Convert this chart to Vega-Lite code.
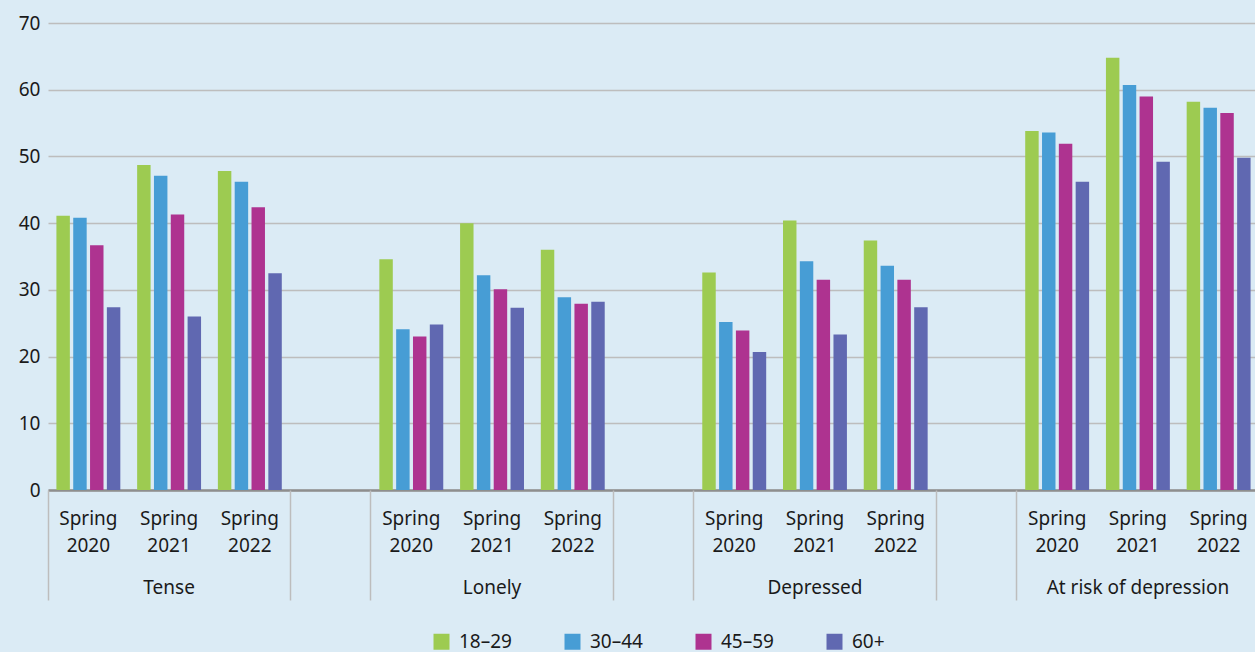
{
  "$schema": "https://vega.github.io/schema/vega-lite/v6.json",
  "width": 1207,
  "height": 467,
  "autosize": {"type": "none"},
  "padding": {"left": 48, "top": 23, "right": 0, "bottom": 162},
  "background": "#dbebf5",
  "config": {
    "view": {"stroke": null},
    "font": "Noto Sans",
    "axis": {"labelFont": "Noto Sans", "labelColor": "#1a1a1a", "labelFontSize": 19, "title": null}
  },
  "data": {
    "values": [
      {"slot": "Tense|Spring 2020", "age": "18–29", "value": 41.1},
      {"slot": "Tense|Spring 2020", "age": "30–44", "value": 40.8},
      {"slot": "Tense|Spring 2020", "age": "45–59", "value": 36.7},
      {"slot": "Tense|Spring 2020", "age": "60+", "value": 27.4},
      {"slot": "Tense|Spring 2021", "age": "18–29", "value": 48.7},
      {"slot": "Tense|Spring 2021", "age": "30–44", "value": 47.1},
      {"slot": "Tense|Spring 2021", "age": "45–59", "value": 41.3},
      {"slot": "Tense|Spring 2021", "age": "60+", "value": 26.0},
      {"slot": "Tense|Spring 2022", "age": "18–29", "value": 47.8},
      {"slot": "Tense|Spring 2022", "age": "30–44", "value": 46.2},
      {"slot": "Tense|Spring 2022", "age": "45–59", "value": 42.4},
      {"slot": "Tense|Spring 2022", "age": "60+", "value": 32.5},
      {"slot": "Lonely|Spring 2020", "age": "18–29", "value": 34.6},
      {"slot": "Lonely|Spring 2020", "age": "30–44", "value": 24.1},
      {"slot": "Lonely|Spring 2020", "age": "45–59", "value": 23.0},
      {"slot": "Lonely|Spring 2020", "age": "60+", "value": 24.8},
      {"slot": "Lonely|Spring 2021", "age": "18–29", "value": 40.0},
      {"slot": "Lonely|Spring 2021", "age": "30–44", "value": 32.2},
      {"slot": "Lonely|Spring 2021", "age": "45–59", "value": 30.1},
      {"slot": "Lonely|Spring 2021", "age": "60+", "value": 27.3},
      {"slot": "Lonely|Spring 2022", "age": "18–29", "value": 36.0},
      {"slot": "Lonely|Spring 2022", "age": "30–44", "value": 28.9},
      {"slot": "Lonely|Spring 2022", "age": "45–59", "value": 27.9},
      {"slot": "Lonely|Spring 2022", "age": "60+", "value": 28.2},
      {"slot": "Depressed|Spring 2020", "age": "18–29", "value": 32.6},
      {"slot": "Depressed|Spring 2020", "age": "30–44", "value": 25.2},
      {"slot": "Depressed|Spring 2020", "age": "45–59", "value": 23.9},
      {"slot": "Depressed|Spring 2020", "age": "60+", "value": 20.7},
      {"slot": "Depressed|Spring 2021", "age": "18–29", "value": 40.4},
      {"slot": "Depressed|Spring 2021", "age": "30–44", "value": 34.3},
      {"slot": "Depressed|Spring 2021", "age": "45–59", "value": 31.5},
      {"slot": "Depressed|Spring 2021", "age": "60+", "value": 23.3},
      {"slot": "Depressed|Spring 2022", "age": "18–29", "value": 37.4},
      {"slot": "Depressed|Spring 2022", "age": "30–44", "value": 33.6},
      {"slot": "Depressed|Spring 2022", "age": "45–59", "value": 31.5},
      {"slot": "Depressed|Spring 2022", "age": "60+", "value": 27.4},
      {"slot": "At risk of depression|Spring 2020", "age": "18–29", "value": 53.8},
      {"slot": "At risk of depression|Spring 2020", "age": "30–44", "value": 53.6},
      {"slot": "At risk of depression|Spring 2020", "age": "45–59", "value": 51.9},
      {"slot": "At risk of depression|Spring 2020", "age": "60+", "value": 46.2},
      {"slot": "At risk of depression|Spring 2021", "age": "18–29", "value": 64.8},
      {"slot": "At risk of depression|Spring 2021", "age": "30–44", "value": 60.7},
      {"slot": "At risk of depression|Spring 2021", "age": "45–59", "value": 59.0},
      {"slot": "At risk of depression|Spring 2021", "age": "60+", "value": 49.2},
      {"slot": "At risk of depression|Spring 2022", "age": "18–29", "value": 58.2},
      {"slot": "At risk of depression|Spring 2022", "age": "30–44", "value": 57.3},
      {"slot": "At risk of depression|Spring 2022", "age": "45–59", "value": 56.5},
      {"slot": "At risk of depression|Spring 2022", "age": "60+", "value": 49.8}
    ]
  },
  "resolve": {"axis": {"x": "independent"}},
  "layer": [
    {
      "mark": {"type": "bar"},
      "encoding": {
        "x": {
          "field": "slot",
          "type": "nominal",
          "sort": null,
          "scale": {
            "domain": ["Tense|Spring 2020", "Tense|Spring 2021", "Tense|Spring 2022", "gap1",
                       "Lonely|Spring 2020", "Lonely|Spring 2021", "Lonely|Spring 2022", "gap2",
                       "Depressed|Spring 2020", "Depressed|Spring 2021", "Depressed|Spring 2022", "gap3",
                       "At risk of depression|Spring 2020", "At risk of depression|Spring 2021", "At risk of depression|Spring 2022"],
            "range": [0, 1211],
            "paddingInner": 0,
            "paddingOuter": 0
          },
          "axis": {
            "orient": "bottom",
            "labelAngle": 0,
            "ticks": false,
            "domain": true,
            "domainColor": "#8e8e8e",
            "domainWidth": 2.5,
            "grid": false,
            "labelPadding": 19,
            "labelBaseline": "top",
            "labelLineHeight": 27,
            "labelExpr": "indexof(datum.value,'gap')>=0 ? '' : split(split(datum.value,'|')[1],' ')"
          }
        },
        "xOffset": {
          "field": "age",
          "type": "nominal",
          "scale": {"paddingInner": 0.2, "paddingOuter": 0.5}
        },
        "y": {
          "field": "value",
          "type": "quantitative",
          "scale": {"domain": [0, 70], "nice": false},
          "axis": {
            "values": [0, 10, 20, 30, 40, 50, 60, 70],
            "domain": false,
            "ticks": false,
            "grid": true,
            "gridColor": "#bdbdbd",
            "gridWidth": 1.5,
            "labelPadding": 8
          }
        },
        "color": {
          "field": "age",
          "type": "nominal",
          "scale": {
            "domain": ["18–29", "30–44", "45–59", "60+"],
            "range": ["#9dcb51", "#479dd5", "#ae3390", "#6068b1"]
          },
          "legend": {
            "title": null,
            "orient": "none",
            "legendX": 384,
            "legendY": 609,
            "direction": "horizontal",
            "symbolType": "square",
            "symbolSize": 256,
            "symbolStrokeWidth": 0,
            "symbolOpacity": 1,
            "labelFont": "Noto Sans",
            "labelFontSize": 19,
            "labelColor": "#1a1a1a",
            "labelOffset": 8,
            "columnPadding": 51
          }
        }
      }
    },
    {
      "mark": {"type": "rule", "opacity": 0},
      "encoding": {
        "x": {
          "field": "slot",
          "type": "nominal",
          "sort": null,
          "scale": {
            "domain": ["Tense|Spring 2020", "Tense|Spring 2021", "Tense|Spring 2022", "gap1",
                       "Lonely|Spring 2020", "Lonely|Spring 2021", "Lonely|Spring 2022", "gap2",
                       "Depressed|Spring 2020", "Depressed|Spring 2021", "Depressed|Spring 2022", "gap3",
                       "At risk of depression|Spring 2020", "At risk of depression|Spring 2021", "At risk of depression|Spring 2022"],
            "range": [0, 1211],
            "paddingInner": 0,
            "paddingOuter": 0
          },
          "axis": {
            "orient": "bottom",
            "labelAngle": 0,
            "domain": false,
            "grid": false,
            "ticks": true,
            "bandPosition": 0,
            "tickSize": 110,
            "tickWidth": 1.5,
            "tickColor": "#bdbdbd",
            "tickOpacity": {"condition": {"test": "indexof(datum.value,'2020')>=0 || indexof(datum.value,'gap')>=0", "value": 1}, "value": 0},
            "labelPadding": -22,
            "labelLimit": 0,
            "labelBaseline": "top",
            "labelExpr": "indexof(datum.value,'2021')>=0 ? split(datum.value,'|')[0] : ''"
          }
        }
      }
    }
  ]
}
